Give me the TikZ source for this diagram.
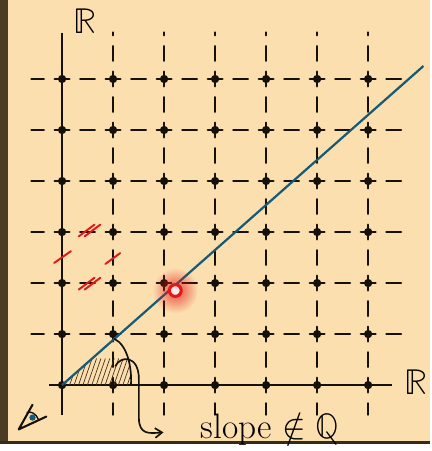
\documentclass[tikz,border=0pt]{standalone}
\usepackage{unicode-math}
\usetikzlibrary{arrows.meta,fadings}

\definecolor{paper}{RGB}{252,223,175}
\definecolor{frame}{RGB}{77,60,36}
\definecolor{ink}{RGB}{22,16,10}
\definecolor{slopeblue}{RGB}{22,90,118}
\definecolor{markred}{RGB}{226,24,24}

\tikzfading[name=glowfade, inner color=transparent!0, outer color=transparent!100]

\begin{document}
\begin{tikzpicture}[x=0.025cm, y=-0.025cm,
    gridline/.style={ink, line width=1.9pt, line cap=round, dash pattern=on 10.5pt off 7.92pt},
    axisline/.style={ink, line width=1.7pt},
    gdot/.style={circle, fill=ink, inner sep=0pt, minimum size=6pt},
    slopeline/.style={slopeblue, line width=1.6pt},
    tickmark/.style={markred, line width=1.4pt, line cap=round},
    hatch/.style={ink!70!brown, line width=0.5pt},
    pen/.style={ink, line width=1.2pt}]

    % ===== PAPER =====
    \fill[paper] (0,0) rectangle (437,451);
    \fill[frame] (0,0) rectangle (8,451);
    \fill[frame!70!black] (0,448) rectangle (437,451);

    % ===== GRID =====
    \foreach \i in {0,...,6} {
        \coordinate (top\i) at ({63+51.8*\i}, 33);
        \coordinate (bot\i) at ({63+51.8*\i}, 421);
    }
    \foreach \j in {0,...,6} {
        \coordinate (left\j) at (32, {391-51.8*\j});
        \coordinate (right\j) at (412, {391-51.8*\j});
    }
    \foreach \i in {1,...,6}
        \draw[gridline, dash phase=8.52pt] (top\i) -- (bot\i);
    \foreach \j in {1,...,6}
        \draw[gridline, dash phase=1.62pt] (left\j) -- (right\j);

    % axes
    \coordinate (xstart) at (50, 391);
    \coordinate (xend) at (398, 391);
    \draw[axisline] (top0) -- (bot0);
    \draw[axisline] (xstart) -- (xend);
    \node[font=\fontsize{26}{30}\selectfont] (yname) at (86, 22) {$\mathbb{R}$};
    \node[font=\fontsize{26}{30}\selectfont] (xname) at (422, 388) {$\mathbb{R}$};

    % lattice points
    \foreach \i in {0,...,6}
        \foreach \j in {0,...,6}
            \node[gdot] (d\i\j) at ({63+51.8*\i}, {391-51.8*\j}) {};

    % ===== SLOPE LINE =====
    \coordinate (lineend) at (430, 67);
    \coordinate (lp) at (116, 344);
    \begin{scope}
        \clip (d00.center) -- (lp) .. controls (129, 350) and (134, 372) .. (133, 391) -- cycle;
        \foreach \k in {0,...,16}
            \draw[hatch] ({60+4.5*\k}, 396) -- ++(11, -32);
    \end{scope}
    \draw[slopeline] (d00.center) -- (lineend);
    \draw[pen] (lp) .. controls (129, 350) and (134, 372) .. (133, 391);

    % curly arrow to the label
    \coordinate (arrowstart) at (117, 372);
    \coordinate (arrowend) at (166, 439);
    \draw[pen, -{Straight Barb[length=5pt, width=7pt]}] (arrowstart)
        .. controls (122, 361) and (141, 360) .. (141, 385) -- (141, 424)
        .. controls (141, 442) and (152, 440) .. (arrowend);
    \node[anchor=base west, font=\fontsize{25.5}{30}\selectfont] (slopetext) at (199, 445) {slope $\notin\mathbb{Q}$};

    % ===== NEAR MISS =====
    \coordinate (hit) at (178, 295);
    \fill[markred, opacity=0.75, path fading=glowfade] (hit) circle (23);
    \node[circle, draw=markred, line width=2.2pt, fill=red!10, minimum size=8.5pt, inner sep=0pt] (hitdot) at (hit) {};

    % equal sides
    \foreach \dx in {-3,3}
        \draw[tickmark] ({91+\dx-8}, 240) -- ++(16, -12);
    \foreach \dx in {-3,3}
        \draw[tickmark] ({91+\dx-8}, 294) -- ++(16, -12);
    \draw[tickmark] (55, 267) -- (72, 255);
    \draw[tickmark] (107, 268) -- (122, 257);

    % ===== EYE =====
    \coordinate (eyeball) at (33, 424);
    \draw[ink, line width=1.5pt, line join=round, line cap=round] (33, 411) -- (19, 436) -- (47, 423);
    \draw[ink, line width=1pt] (27, 419) .. controls (31, 417) and (37, 420) .. (39, 426);
    \fill[slopeblue] (eyeball) circle (3.2);
\end{tikzpicture}
\end{document}
